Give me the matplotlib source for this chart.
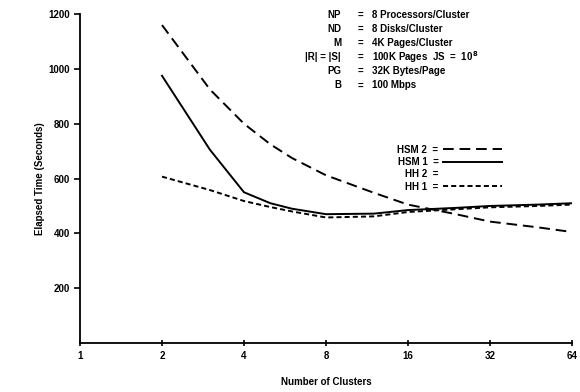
import numpy as np
import matplotlib
matplotlib.use("Agg")
import matplotlib.pyplot as plt
from matplotlib.lines import Line2D

plt.rcParams['font.family'] = ['Liberation Sans', 'DejaVu Sans']
plt.rcParams['font.weight'] = 'bold'

# data
clusters = [2, 3, 4, 5, 6, 8, 12, 16, 24, 32, 48, 64]
hsm2 = [1160, 925, 800, 725, 675, 612, 548, 505, 470, 443, 422, 405]
hsm1 = [975, 705, 550, 510, 490, 470, 472, 485, 493, 500, 505, 510]
hh1 = [607, 558, 518, 496, 480, 458, 462, 478, 488, 495, 500, 505]

xticks = [1, 2, 4, 8, 16, 32, 64]
yticks = [200, 400, 600, 800, 1000, 1200]

param_names = ["NP", "ND", "M", "|R| = |S|", "PG", "B"]
param_values = ["8 Processors/Cluster", "8 Disks/Cluster", "4K Pages/Cluster",
                "100K Pages  JS  =  10$^{\\,8}$", "32K Bytes/Page", "100 Mbps"]

fig = plt.figure(figsize=(5.8, 3.92), dpi=100)
ax = fig.add_axes([0.138, 0.125, 0.848, 0.839])

l_hsm2, = ax.plot(clusters, hsm2, color='black', lw=1.4, dashes=(5.5, 3))
l_hsm1, = ax.plot(clusters, hsm1, color='black', lw=1.4)
l_hh1, = ax.plot(clusters, hh1, color='black', lw=1.4, dashes=(2.6, 1.6))
l_hh2 = Line2D([], [], linestyle='none')

ax.set_xscale('log', base=2)
ax.set_xlim(1, 64)
ax.set_ylim(0, 1200)
ax.set_xticks(xticks)
ax.set_xticklabels([str(t) for t in xticks])
ax.set_yticks(yticks)
ax.minorticks_off()
for s in ['top', 'right']:
    ax.spines[s].set_visible(False)
ax.spines['left'].set_linewidth(1.3)
ax.spines['bottom'].set_linewidth(1.3)
ax.tick_params(axis='y', direction='out', length=4, width=1.2, labelsize=7, pad=3)
ax.tick_params(axis='x', direction='inout', length=5, width=1.2, labelsize=7, pad=3)

ax.set_xlabel("Number of Clusters", fontsize=7, fontweight='bold', labelpad=12)
ax.set_ylabel("Elapsed Time (Seconds)", fontsize=7, fontweight='bold', labelpad=3)

ax.legend([l_hsm2, l_hsm1, l_hh2, l_hh1],
          ["HSM 2  =", "HSM 1  =", "HH 2  =", "HH 1  ="],
          markerfirst=False, frameon=False, fontsize=7,
          handlelength=6, handletextpad=0.5, labelspacing=0.25,
          loc='upper right', bbox_to_anchor=(0.875, 0.63))

# parameter block
for i, (n, v) in enumerate(zip(param_names, param_values)):
    y = 0.962 - i * 0.036
    fig.text(0.588, y, n, ha='right', va='center', fontsize=7, fontweight='bold')
    fig.text(0.621, y, "=", ha='center', va='center', fontsize=7, fontweight='bold')
    fig.text(0.641, y, v, ha='left', va='center', fontsize=7, fontweight='bold')

fig.savefig("out.png", dpi=100)
